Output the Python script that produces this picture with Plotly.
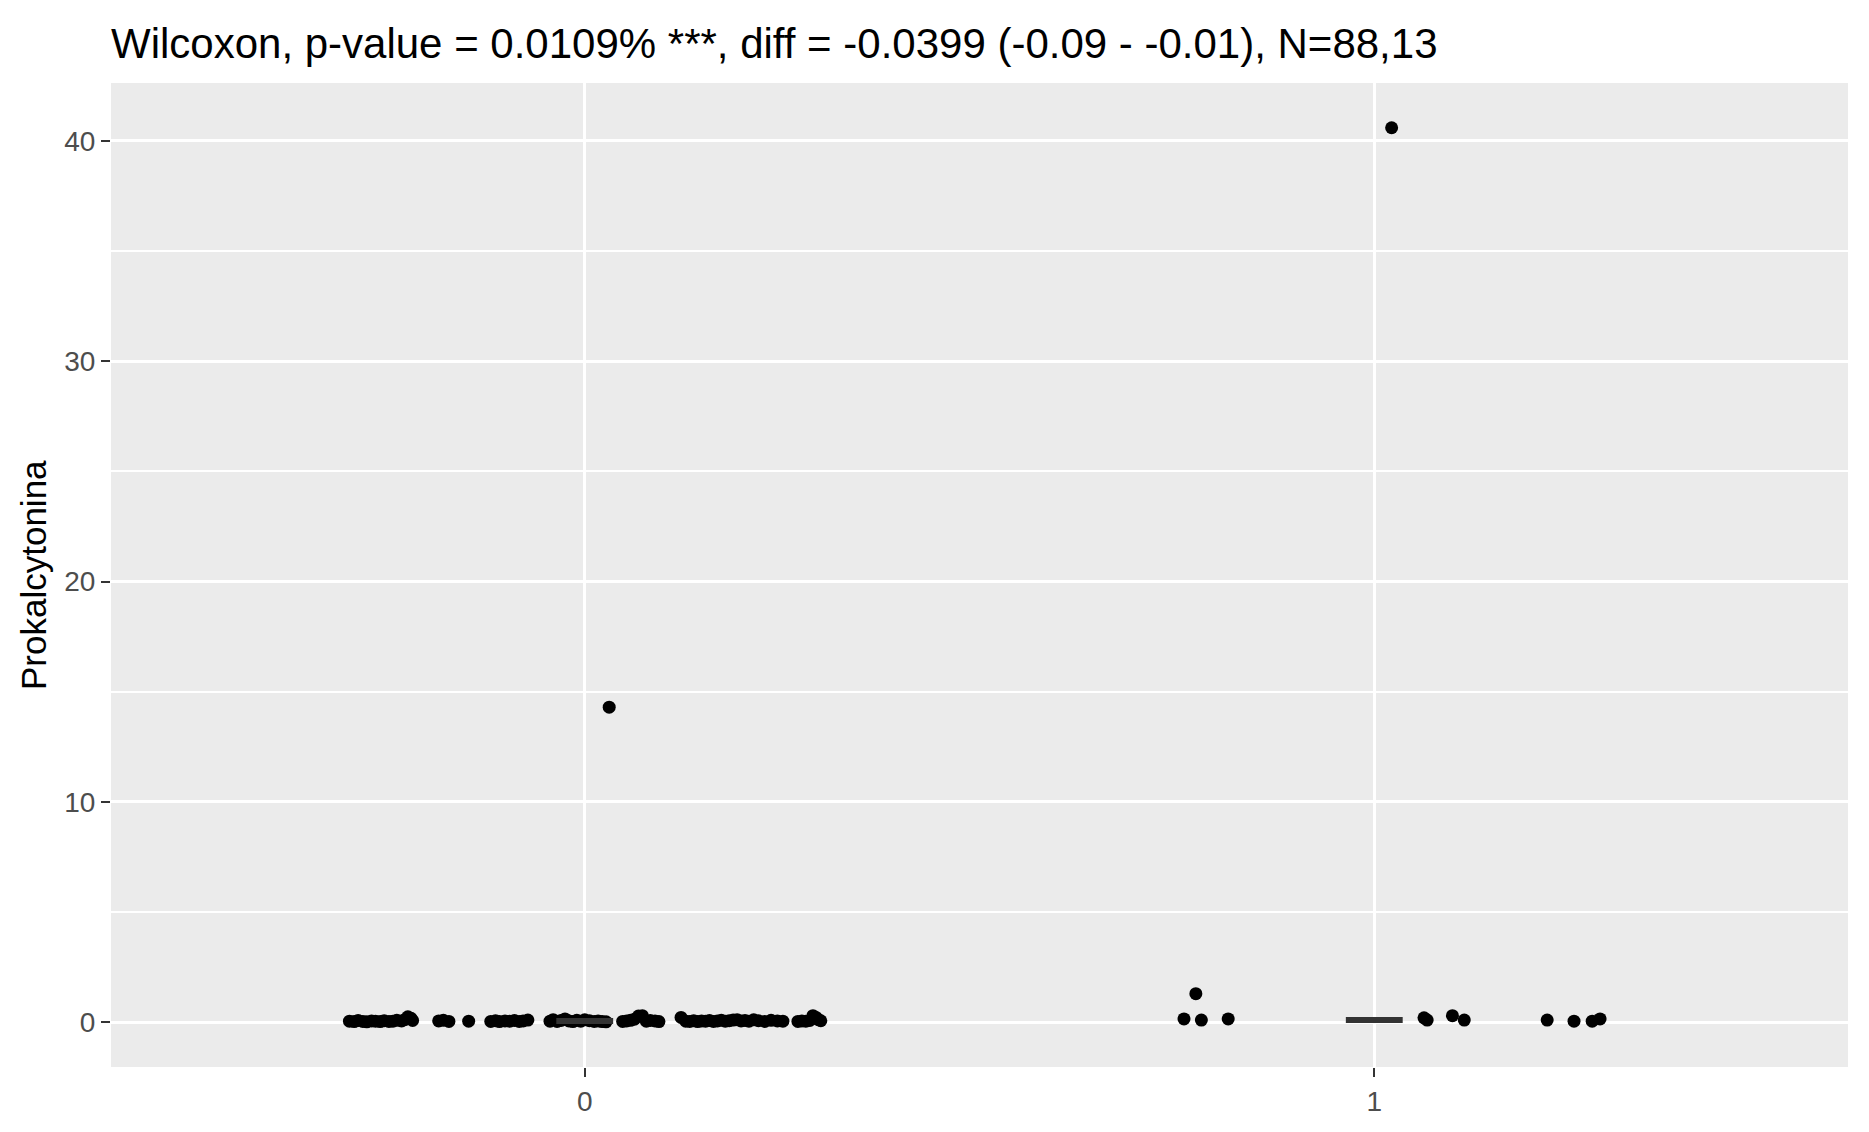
import plotly.graph_objects as go

# group "0": jitter offset around category position and value
g0_offset = [
    -0.298, -0.292, -0.287, -0.281, -0.276, -0.270, -0.265, -0.259, -0.254,
    -0.248, -0.243, -0.238, -0.232, -0.228, -0.224, -0.220, -0.218,
    -0.185, -0.179, -0.172,
    -0.147,
    -0.119, -0.113, -0.108, -0.101, -0.095, -0.089, -0.083, -0.078, -0.072,
    -0.044, -0.040, -0.035, -0.030, -0.025, -0.020, -0.015, -0.010, -0.005,
    0.000, 0.006, 0.012, 0.017, 0.022, 0.027,
    0.031,
    0.048, 0.053, 0.058, 0.063, 0.068, 0.073, 0.078, 0.083, 0.089, 0.094,
    0.122, 0.128, 0.133, 0.138, 0.143, 0.148, 0.153, 0.158, 0.163, 0.168,
    0.173, 0.178, 0.183, 0.188, 0.193, 0.198, 0.203, 0.208, 0.214, 0.220,
    0.228, 0.236, 0.244, 0.251,
    0.270, 0.275, 0.280, 0.285, 0.289, 0.293, 0.296, 0.299,
]
g0_value = [
    0.05, 0.03, 0.08, 0.04, 0.02, 0.06, 0.05, 0.03, 0.07,
    0.04, 0.05, 0.09, 0.06, 0.12, 0.25, 0.18, 0.08,
    0.06, 0.09, 0.04,
    0.05,
    0.04, 0.07, 0.03, 0.06, 0.05, 0.08, 0.04, 0.06, 0.10,
    0.05, 0.12, 0.04, 0.08, 0.15, 0.06, 0.03, 0.09, 0.05,
    0.11, 0.07, 0.04, 0.06, 0.03, 0.02,
    14.3,
    0.04, 0.06, 0.09, 0.14, 0.28, 0.30, 0.05, 0.08, 0.06, 0.03,
    0.22, 0.05, 0.04, 0.07, 0.03, 0.06, 0.05, 0.08, 0.04, 0.06,
    0.09, 0.05, 0.07, 0.10, 0.12, 0.06, 0.08, 0.05, 0.11, 0.07,
    0.04, 0.09, 0.06, 0.05,
    0.04, 0.06, 0.05, 0.08, 0.30, 0.22, 0.12, 0.07,
]

# group "1"
g1_offset = [-0.241, -0.226, -0.219, -0.185, 0.022, 0.063, 0.067, 0.099,
             0.114, 0.219, 0.253, 0.276, 0.286]
g1_value = [0.15, 1.3, 0.10, 0.15, 40.6, 0.20, 0.10, 0.30,
            0.10, 0.10, 0.05, 0.05, 0.15]

categories = ["0", "1"]
medians = [0.06, 0.10]

title_text = "Wilcoxon, p-value = 0.0109% ***, diff = -0.0399 (-0.09 - -0.01), N=88,13"
y_label = "Prokalcytonina"

FONT = "Liberation Sans, Arial, sans-serif"
W, H = 1869, 1132
PAD = 8  # page body margin

fig = go.Figure()

for pos, (offs, vals) in enumerate([(g0_offset, g0_value), (g1_offset, g1_value)]):
    fig.add_trace(
        go.Scatter(
            x=[pos + o for o in offs],
            y=vals,
            mode="markers",
            marker=dict(color="black", size=13, line=dict(width=0)),
            showlegend=False,
        )
    )

# median segments
half = 0.036
seg_x, seg_y = [], []
for pos, m in enumerate(medians):
    seg_x += [pos - half, pos + half, None]
    seg_y += [m, m, None]
fig.add_trace(
    go.Scatter(
        x=seg_x,
        y=seg_y,
        mode="lines",
        line=dict(color="#333333", width=6),
        showlegend=False,
    )
)

fig.update_layout(
    width=W,
    height=H,
    margin=dict(l=111 - PAD, r=21 + PAD, t=83 - PAD, b=65 + PAD),
    paper_bgcolor="white",
    plot_bgcolor="#EBEBEB",
    font=dict(family=FONT, color="black"),
    title=dict(
        text=title_text,
        x=(111 - PAD) / W,
        xanchor="left",
        xref="container",
        y=1 - (43 - PAD) / H,
        yanchor="middle",
        yref="container",
        font=dict(size=42, color="black", family=FONT),
    ),
    annotations=[
        dict(
            text=y_label,
            textangle=-90,
            xref="paper",
            yref="paper",
            x=-(111 - 33) / 1737,
            y=0.5,
            xanchor="center",
            yanchor="middle",
            showarrow=False,
            font=dict(size=35, color="black", family=FONT),
        )
    ],
)

fig.update_xaxes(
    range=[-0.6, 1.6],
    tickvals=[0, 1],
    ticktext=categories,
    showgrid=True,
    gridcolor="white",
    gridwidth=3,
    zeroline=False,
    ticks="outside",
    ticklen=9,
    tickwidth=2,
    tickcolor="#333333",
    tickfont=dict(size=28, color="#4D4D4D", family=FONT),
    showline=False,
)
fig.update_yaxes(
    range=[-2.03, 42.63],
    tickvals=[0, 10, 20, 30, 40],
    showgrid=True,
    gridcolor="white",
    gridwidth=3,
    zeroline=False,
    ticks="outside",
    ticklen=9,
    tickwidth=2,
    tickcolor="#333333",
    tickfont=dict(size=28, color="#4D4D4D", family=FONT),
    minor=dict(tickvals=[5, 15, 25, 35], showgrid=True, gridcolor="white", gridwidth=1.5, ticks=""),
    showline=False,
)

fig.write_html("out.html")
